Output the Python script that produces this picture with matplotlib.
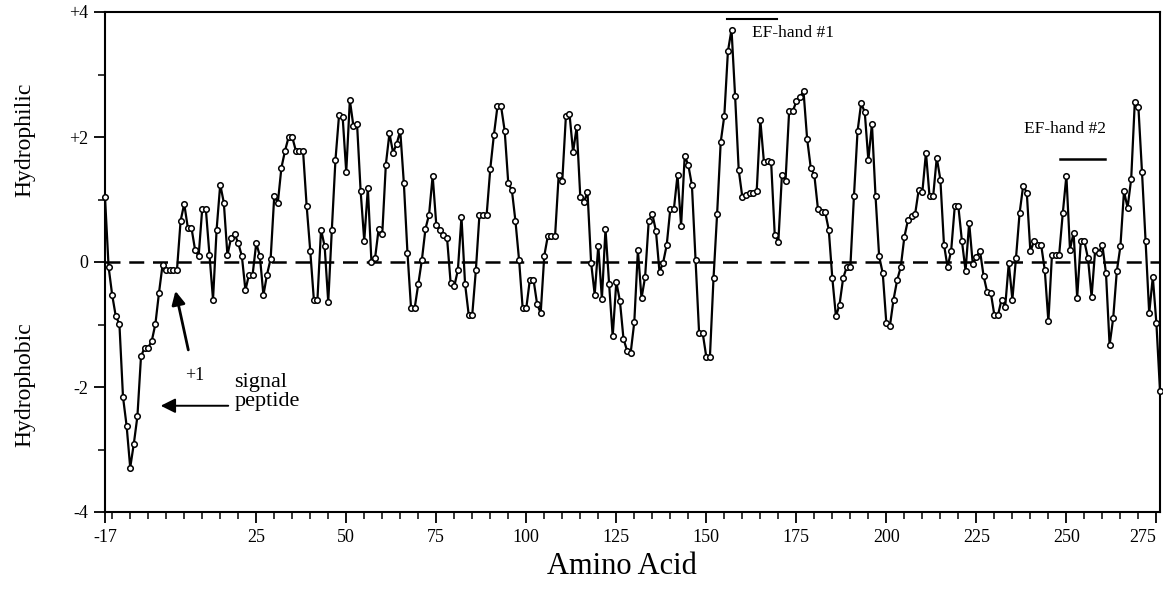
import matplotlib
matplotlib.use("Agg")
import matplotlib.pyplot as plt
import numpy as np

# Hydropathy values, residue -17 onward (one value per residue)
signal_vals = [1.04, -0.08, -0.53, -0.87, -0.99, -2.16, -2.62, -3.29, -2.91, -2.47,
               -1.51, -1.37, -1.37, -1.26, -0.99, -0.49, -0.04]
mature_vals = [
    -0.12, -0.12, -0.12, -0.12, 0.66, 0.93, 0.55, 0.55, 0.20, 0.09,
    0.85, 0.85, 0.12, -0.60, 0.52, 1.24, 0.95, 0.11, 0.38, 0.45,
    0.30, 0.10, -0.45, -0.20, -0.20, 0.30, 0.10, -0.53, -0.20, 0.05,
    1.05, 0.95, 1.51, 1.78, 2.00, 2.00, 1.78, 1.78, 1.78, 0.90,
    0.18, -0.60, -0.60, 0.52, 0.25, -0.64, 0.52, 1.63, 2.35, 2.32,
    1.44, 2.59, 2.17, 2.21, 1.13, 0.34, 1.18, 0.00, 0.06, 0.53,
    0.45, 1.56, 2.06, 1.75, 1.89, 2.10, 1.26, 0.15, -0.74, -0.74,
    -0.35, 0.03, 0.53, 0.76, 1.38, 0.60, 0.52, 0.44, 0.38, -0.34,
    -0.39, -0.13, 0.72, -0.35, -0.84, -0.84, -0.13, 0.76, 0.76, 0.76,
    1.49, 2.03, 2.49, 2.49, 2.10, 1.26, 1.15, 0.65, 0.03, -0.74,
    -0.74, -0.28, -0.28, -0.67, -0.82, 0.10, 0.42, 0.42, 0.42, 1.39,
    1.30, 2.33, 2.37, 1.76, 2.16, 1.04, 0.96, 1.12, -0.01, -0.52,
    0.26, -0.59, 0.53, -0.35, -1.19, -0.32, -0.62, -1.23, -1.42, -1.45,
    -0.96, 0.19, -0.58, -0.24, 0.65, 0.77, 0.50, -0.16, -0.01, 0.27,
    0.85, 0.85, 1.39, 0.58, 1.70, 1.55, 1.23, 0.03, -1.14, -1.14,
    -1.52, -1.52, -0.26, 0.77, 1.92, 2.34, 3.37, 3.72, 2.65, 1.47,
    1.04, 1.08, 1.10, 1.10, 1.14, 2.27, 1.60, 1.62, 1.60, 0.44,
    0.32, 1.39, 1.30, 2.41, 2.41, 2.57, 2.64, 2.73, 1.97, 1.51,
    1.39, 0.85, 0.80, 0.80, 0.52, -0.26, -0.87, -0.68, -0.26, -0.08,
    -0.08, 1.05, 2.09, 2.54, 2.40, 1.63, 2.21, 1.05, 0.09, -0.18,
    -0.98, -1.02, -0.60, -0.29, -0.08, 0.40, 0.67, 0.73, 0.77, 1.16,
    1.12, 1.75, 1.05, 1.05, 1.67, 1.32, 0.28, -0.08, 0.18, 0.89,
    0.89, 0.33, -0.14, 0.63, -0.03, 0.08, 0.18, -0.22, -0.48, -0.49,
    -0.85, -0.85, -0.60, -0.72, -0.02, -0.60, 0.06, 0.78, 1.22, 1.11,
    0.17, 0.33, 0.27, 0.27, -0.13, -0.95, 0.12, 0.12, 0.12, 0.78,
    1.38, 0.20, 0.47, -0.57, 0.33, 0.33, 0.06, -0.56, 0.20, 0.15,
    0.27, -0.18, -1.33, -0.90, -0.15, 0.25, 1.13, 0.87, 1.33, 2.56,
    2.48, 1.44, 0.33, -0.82, -0.24, -0.98, -2.06]

values = signal_vals + mature_vals
positions = np.arange(-17, -17 + len(values))

x_major = [-17, 25, 50, 75, 100, 125, 150, 175, 200, 225, 250, 275]
y_major = [-4, -2, 0, 2, 4]
y_labels = ["-4", "-2", "0", "+2", "+4"]

plt.rcParams["font.family"] = ["Liberation Serif", "DejaVu Serif"]

fig = plt.figure(figsize=(11.63, 5.90), dpi=100)
ax = fig.add_axes([105 / 1163, 78 / 590, (1160 - 105) / 1163, 500 / 590])

ax.axhline(0, color="black", lw=1.8, ls=(0, (6, 3.5)), zorder=1)
ax.plot(positions, values, color="black", lw=1.6, marker="o", markersize=4.0,
        markerfacecolor="white", markeredgecolor="black", markeredgewidth=1.1,
        zorder=3, clip_on=False)

ax.set_xlim(-17, 276)
ax.set_ylim(-4, 4)
ax.set_xticks(x_major)
ax.set_xticklabels([str(v) for v in x_major], fontsize=13)
ax.get_xticklabels()[-1].set_horizontalalignment("right")
ax.set_xticks(np.arange(-15, 276, 5), minor=True)
ax.set_yticks(y_major)
ax.set_yticklabels(y_labels, fontsize=13)
ax.set_yticks([-3, -1, 1, 3], minor=True)
ax.tick_params(axis="both", which="major", direction="out", length=8, width=1.3, pad=4)
ax.tick_params(axis="both", which="minor", direction="out", length=5, width=1.1)
for s in ax.spines.values():
    s.set_linewidth(1.5)

fig.text(25 / 1163, 1 - 140 / 590, "Hydrophilic", rotation=90, ha="center", va="center", fontsize=17)
fig.text(25 / 1163, 1 - 385 / 590, "Hydrophobic", rotation=90, ha="center", va="center", fontsize=17)
fig.text(622 / 1163, 1 - 566 / 590, "Amino Acid", ha="center", va="center", fontsize=22)

# EF-hand annotations
ax.plot([155.7, 169.5], [3.89, 3.89], color="black", lw=1.5, clip_on=False)
ax.text(162.7, 3.66, "EF-hand #1", ha="left", va="center", fontsize=12.5)
ax.plot([248.3, 260.7], [1.65, 1.65], color="black", lw=1.8)
ax.text(249.5, 2.13, "EF-hand #2", ha="center", va="center", fontsize=12.5)

# signal peptide
ax.text(19.0, -2.08, "signal\npeptide", ha="left", va="center", fontsize=16, linespacing=1.05)
ax.annotate("", xy=(-2.3, -2.30), xytext=(18.0, -2.30),
            arrowprops=dict(arrowstyle="-|>", color="black", lw=1.4, mutation_scale=22))
ax.text(7.9, -1.82, "+1", ha="center", va="center", fontsize=13)
ax.annotate("", xy=(2.4, -0.42), xytext=(6.3, -1.45),
            arrowprops=dict(arrowstyle="-|>", color="black", lw=2.0, mutation_scale=20))

fig.savefig("out.png", dpi=100)
